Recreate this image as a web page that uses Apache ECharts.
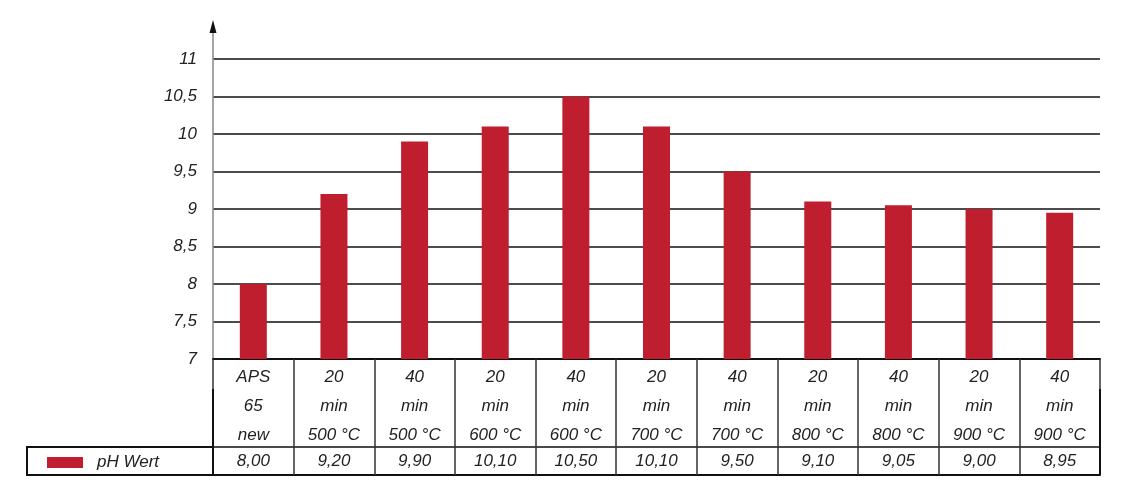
<!DOCTYPE html>
<html>
<head>
<meta charset="utf-8">
<script src="https://cdn.jsdelivr.net/npm/echarts@6/dist/echarts.min.js"></script>
<style>
html,body{margin:0;padding:0;background:#fff;}
#c{width:1126px;height:499px;}
</style>
</head>
<body>
<div id="c"></div>
<script>
const categories = ['APS\n65\nnew','20\nmin\n500 °C','40\nmin\n500 °C','20\nmin\n600 °C','40\nmin\n600 °C','20\nmin\n700 °C','40\nmin\n700 °C','20\nmin\n800 °C','40\nmin\n800 °C','20\nmin\n900 °C','40\nmin\n900 °C'];
const phValues = [8.00, 9.20, 9.90, 10.10, 10.50, 10.10, 9.50, 9.10, 9.05, 9.00, 8.95];
const seriesName = 'pH Wert';
const yMin = 7, yMax = 11, yStep = 0.5;

const FONT = '"Liberation Sans", Arial, sans-serif';
const TXT = '#222';
const FS = 17;
const valueLabels = phValues.map(v => v.toFixed(2).replace('.', ','));

const chart = echarts.init(document.getElementById('c'), null, {renderer: 'canvas'});
const option = {
  animation: false,
  backgroundColor: '#fff',
  grid: {left: 213, right: 26, top: 59, bottom: 140},
  legend: {
    data: [seriesName],
    left: 42, top: 449,
    itemWidth: 36, itemHeight: 11,
    icon: 'rect',
    textStyle: {fontFamily: FONT, fontStyle: 'italic', fontSize: FS, color: TXT, padding: [0,0,0,9]},
    selectedMode: false
  },
  xAxis: [
    {
      type: 'category', data: categories, position: 'bottom',
      axisLine: {show: true, lineStyle: {color: '#111', width: 2}},
      axisTick: {show: true, length: 116, alignWithLabel: false, lineStyle: {color: '#333', width: 1.5}},
      axisLabel: {interval: 0, margin: 4, fontFamily: FONT, fontStyle: 'italic', fontSize: FS, color: TXT, lineHeight: 29},
      splitLine: {show: false}
    },
    {
      type: 'category', data: valueLabels, position: 'bottom', offset: 88,
      axisLine: {show: true, lineStyle: {color: '#111', width: 1.5}},
      axisTick: {show: false},
      axisLabel: {interval: 0, margin: 6, lineHeight: 17, fontFamily: FONT, fontStyle: 'italic', fontSize: FS, color: TXT}
    },
    {
      type: 'category', data: valueLabels, position: 'bottom', offset: 116,
      axisLine: {show: true, lineStyle: {color: '#111', width: 2}},
      axisTick: {show: false},
      axisLabel: {show: false}
    }
  ],
  yAxis: {
    type: 'value', min: yMin, max: yMax, interval: yStep,
    axisLine: {show: true, lineStyle: {color: '#888', width: 1.5}},
    axisTick: {show: false},
    axisLabel: {
      margin: 16, fontFamily: FONT, fontStyle: 'italic', fontSize: FS, color: TXT,
      formatter: v => String(v).replace('.', ',')
    },
    splitLine: {show: true, lineStyle: {color: '#111', width: 1.5}}
  },
  series: [{
    name: seriesName, type: 'bar', data: phValues, barWidth: 27,
    itemStyle: {color: '#BF1E2E'}
  }]
};
chart.setOption(option);

// decorations: y-axis arrow extension and left legend cell border
const p0 = chart.convertToPixel({xAxisIndex: 0, yAxisIndex: 0}, [0, yMin]);
const pTop = chart.convertToPixel({yAxisIndex: 0}, yMax);
const axisX = 213;
const gridBottom = p0[1];
chart.setOption({
  graphic: [
    {type: 'line', shape: {x1: axisX, y1: pTop, x2: axisX, y2: 26}, style: {stroke: '#888', lineWidth: 1.5}, z: 10},
    {type: 'polygon', shape: {points: [[axisX, 20], [axisX - 3.5, 33], [axisX + 3.5, 33]]}, style: {fill: '#111'}, z: 10},
    {type: 'rect', shape: {x: 27, y: gridBottom + 88, width: axisX - 27, height: 28}, style: {fill: 'none', stroke: '#111', lineWidth: 2}, z: 10},
    {type: 'line', shape: {x1: axisX, y1: gridBottom + 30, x2: axisX, y2: gridBottom + 116}, style: {stroke: '#111', lineWidth: 2}, z: 10},
    {type: 'line', shape: {x1: 1100, y1: gridBottom + 30, x2: 1100, y2: gridBottom + 116}, style: {stroke: '#111', lineWidth: 2}, z: 10}
  ]
});
</script>
</body>
</html>
